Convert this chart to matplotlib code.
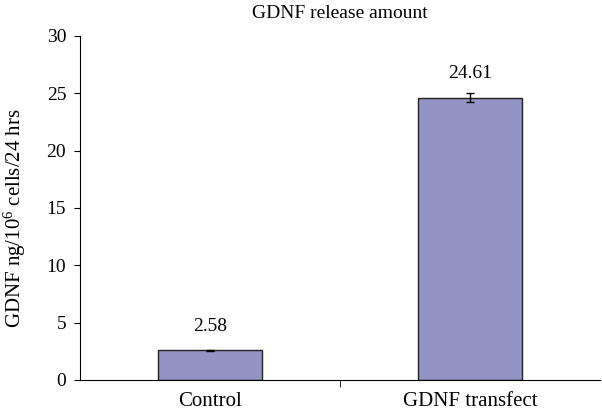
import matplotlib
matplotlib.use("Agg")
import matplotlib.pyplot as plt
import numpy as np

plt.rcParams['font.family'] = ['Liberation Serif', 'DejaVu Serif']
plt.rcParams['mathtext.fontset'] = 'custom'
plt.rcParams['mathtext.rm'] = 'Liberation Serif'
plt.rcParams['mathtext.it'] = 'Liberation Serif:italic'

# data
groups = ["Control", "GDNF transfect"]
release = [2.58, 24.61]
err = [0.05, 0.4]
labels = ["2.58", "24.61"]

fig = plt.figure(figsize=(6.02, 4.18), dpi=100)
ax = fig.add_axes([0.133, 0.091, 0.864, 0.823])

x = np.arange(len(groups))
ax.bar(x, release, width=0.4, color="#9393C6", edgecolor="#222222", linewidth=1.0)
ax.errorbar(x, release, yerr=err, fmt="none", ecolor="black", capsize=3, elinewidth=1, capthick=1)
for xi, v, t in zip(x, release, labels):
    ax.text(xi, v + 2.1, t, ha="center", va="center", fontsize=14)

ax.set_xlim(-0.5, 1.5)
ax.set_ylim(0, 30)
ax.set_yticks(np.arange(0, 31, 5))
ax.set_xticks(x)
ax.set_xticklabels(groups, fontsize=15)
ax.tick_params(axis="x", length=0, pad=9)
ax.set_xticks([0.5], minor=True)
ax.tick_params(axis="x", which="minor", length=5, direction="out")
ax.tick_params(axis="y", labelsize=14, length=4, direction="out", pad=6)

for s in ["top", "right"]:
    ax.spines[s].set_visible(False)

ax.set_ylabel("GDNF ng/10$^6$ cells/24 hrs", fontsize=15)
ax.yaxis.set_label_coords(-0.1, 0.47)
ax.set_title("GDNF release amount", fontsize=14, pad=13)

fig.savefig("out.png", dpi=100)
